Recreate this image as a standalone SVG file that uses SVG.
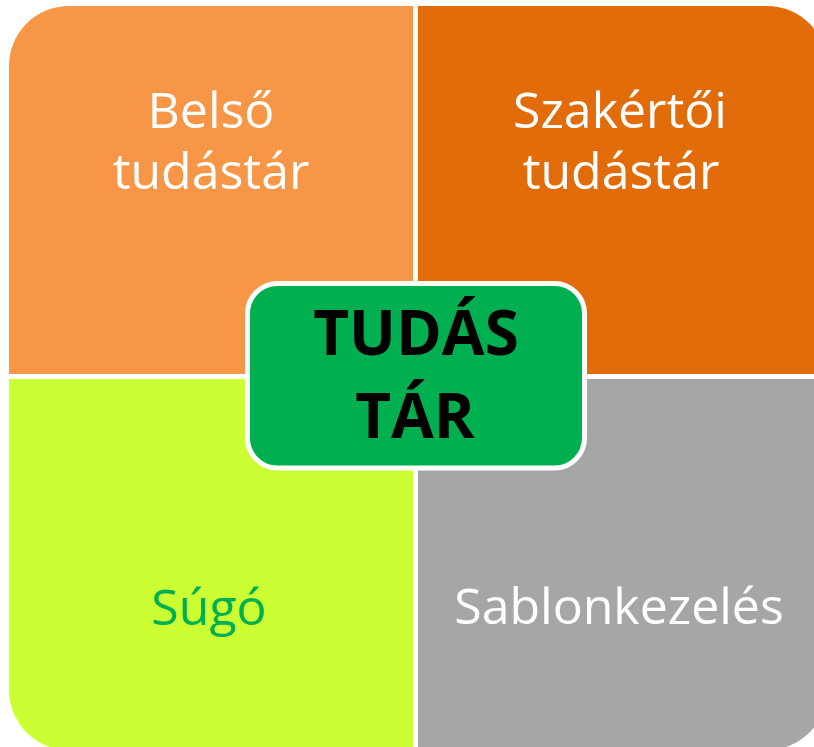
<svg xmlns="http://www.w3.org/2000/svg" width="814" height="747" viewBox="0 0 814 747">
  <style>
    .q { font-family: "Open Sans", "Liberation Sans", sans-serif; font-size: 50px; text-anchor: middle; }
    .w { fill: #FFFFFF; }
    .c { font-family: "Open Sans", "Liberation Sans", sans-serif; font-size: 62px; font-weight: bold; text-anchor: middle; fill: #000000; }
  </style>
  <rect x="0" y="0" width="814" height="747" fill="#FFFFFF"/>
  <g id="belso">
    <path d="M9,66 A60,60 0 0 1 69,6 L413,6 L413,374 L9,374 Z" fill="#F79646"/>
    <text class="q w" x="211" y="128">Belső</text>
    <text class="q w" x="211" y="189">tudástár</text>
  </g>
  <g id="szakertoi">
    <path d="M418,6 L767,6 A60,60 0 0 1 827,66 L827,374 L418,374 Z" fill="#E36C0A"/>
    <text class="q w" x="620" y="128">Szakértői</text>
    <text class="q w" x="621" y="189">tudástár</text>
  </g>
  <g id="sugo">
    <path d="M9,379 L413,379 L413,750 L69,750 A60,60 0 0 1 9,690 Z" fill="#CCFF33"/>
    <text class="q" x="209" y="625" fill="#00B050">Súgó</text>
  </g>
  <g id="sablonkezeles">
    <path d="M418,379 L827,379 L827,690 A60,60 0 0 1 767,750 L418,750 Z" fill="#A6A6A6"/>
    <text class="q w" x="619" y="624">Sablonkezelés</text>
  </g>
  <g id="tudastar">
    <rect x="247.5" y="283.5" width="337" height="184.5" rx="30" ry="30" fill="#00B050" stroke="#FFFFFF" stroke-width="5"/>
    <text class="c" x="416" y="355">TUDÁS</text>
    <text class="c" x="415" y="438">TÁR</text>
  </g>
  <g id="connectors"></g>
</svg>
